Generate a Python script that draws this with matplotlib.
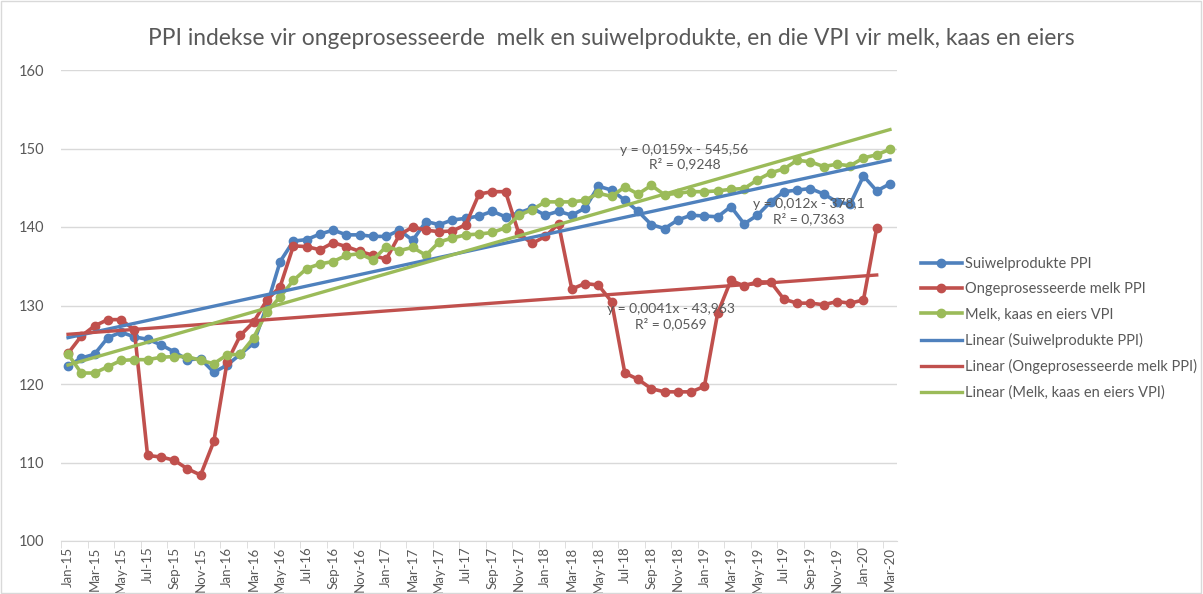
import numpy as np
import matplotlib
matplotlib.use("Agg")
import matplotlib.pyplot as plt
from matplotlib.patches import Rectangle

months = ["Jan", "Feb", "Mar", "Apr", "May", "Jun", "Jul", "Aug", "Sep", "Oct", "Nov", "Dec"]
categories = [f"{months[m]}-{y}" for y in range(15, 21) for m in range(12)][:63]

suiwel_ppi = [122.3, 123.3, 123.8, 125.9, 126.6, 126.0, 125.7, 125.0, 124.1, 123.1,
              123.2, 121.5, 122.4, 123.8, 125.2, 130.0, 135.6, 138.2, 138.4, 139.1,
              139.6, 139.0, 139.0, 138.8, 138.8, 139.6, 138.3, 140.7, 140.3, 140.9,
              141.1, 141.4, 142.0, 141.3, 141.8, 142.4, 141.5, 142.0, 141.5, 142.4,
              145.2, 144.7, 143.4, 142.0, 140.3, 139.8, 140.9, 141.5, 141.4, 141.3,
              142.6, 140.4, 141.5, 143.2, 144.5, 144.7, 144.9, 144.2, 143.2, 142.9,
              146.5, 144.6, 145.5]

melk_ppi = [123.9, 126.1, 127.4, 128.2, 128.2, 126.9, 110.9, 110.7, 110.3, 109.2,
            108.4, 112.7, 122.8, 126.2, 127.9, 130.7, 132.4, 137.6, 137.5, 137.1,
            138.0, 137.5, 136.9, 136.4, 135.9, 139.0, 140.0, 139.6, 139.4, 139.5,
            140.3, 144.2, 144.5, 144.5, 139.2, 137.9, 138.8, 140.4, 132.1, 132.8,
            132.6, 130.5, 121.4, 120.6, 119.4, 119.0, 119.0, 119.0, 119.7, 129.0,
            133.2, 132.5, 133.0, 133.0, 130.8, 130.3, 130.3, 130.1, 130.5, 130.3,
            130.7, 139.9]

vpi = [123.8, 121.4, 121.4, 122.2, 123.0, 123.1, 123.1, 123.4, 123.5, 123.5,
       123.0, 122.6, 123.7, 123.8, 125.9, 129.2, 131.1, 133.2, 134.7, 135.3,
       135.6, 136.4, 136.6, 135.8, 137.5, 137.0, 137.4, 136.4, 138.1, 138.6,
       139.0, 139.1, 139.3, 139.9, 141.5, 142.2, 143.2, 143.2, 143.2, 143.4,
       144.3, 143.9, 145.1, 144.2, 145.3, 144.1, 144.3, 144.5, 144.5, 144.6,
       144.8, 144.9, 146.0, 146.9, 147.4, 148.5, 148.3, 147.7, 148.0, 147.8,
       148.8, 149.2, 149.9]

series_names = ["Suiwelprodukte PPI", "Ongeprosesseerde melk PPI", "Melk, kaas en eiers VPI"]
series_values = [suiwel_ppi, melk_ppi, vpi]
colors = ["#4F81BD", "#C0504D", "#9BBB59"]
trend_labels = ["y = 0,012x - 378,1\nR² = 0,7363",
                "y = 0,0041x - 43,963\nR² = 0,0569",
                "y = 0,0159x - 545,56\nR² = 0,9248"]
trend_label_pos = [(55.9, 142.0), (45.5, 128.6), (46.5, 148.9)]

title = "PPI indekse vir ongeprosesseerde  melk en suiwelprodukte, en die VPI vir melk, kaas en eiers"

plt.rcParams['font.family'] = ['Lato', 'DejaVu Sans']
gray = "#595959"

fig = plt.figure(figsize=(12.03, 5.94), dpi=100)
ax = fig.add_axes([61.4 / 1203, 1 - 541 / 594, (896.6 - 61.4) / 1203, (541 - 70) / 594])

handles = []
for name, vals, c in zip(series_names, series_values, colors):
    x = np.arange(len(vals))
    h, = ax.plot(x, vals, color=c, lw=2.6, marker="o", ms=6, label=name, zorder=3)
    handles.append(h)

for name, vals, c, txt, pos in zip(series_names, series_values, colors, trend_labels, trend_label_pos):
    x = np.arange(len(vals))
    k, b = np.polyfit(x, vals, 1)
    h, = ax.plot([x[0], x[-1]], [k * x[0] + b, k * x[-1] + b], color=c, lw=2.4,
                 label=f"Linear ({name})", zorder=4)
    handles.append(h)
    ax.text(pos[0], pos[1], txt, ha="center", va="center", fontsize=10,
            color=gray, linespacing=1.2, zorder=5)

ax.set_xlim(-0.5, 62.5)
ax.set_ylim(100, 160)
ax.set_yticks(range(100, 161, 10))
ax.grid(axis="y", color="#D9D9D9", lw=1)
ax.set_axisbelow(True)
for s in ["top", "right", "left"]:
    ax.spines[s].set_visible(False)
ax.spines["bottom"].set_color("#D9D9D9")

ax.set_xticks(np.arange(0, 63, 2))
ax.set_xticklabels(categories[::2], rotation=90, fontsize=9.5, color=gray)
ax.set_xticks(np.arange(-0.5, 63, 2), minor=True)
ax.tick_params(axis="x", which="major", length=0, pad=4)
ax.tick_params(axis="x", which="minor", length=5, color="#D9D9D9")
ax.tick_params(axis="y", length=0, labelsize=10.5, labelcolor=gray, pad=12)

fig.text(0.508, 0.936, title, ha="center", va="center", fontsize=16.4, color=gray)

fig.legend(handles=handles, loc="upper left", bbox_to_anchor=(915 / 1203, 1 - 251 / 594),
           frameon=False, fontsize=10.5, labelcolor=gray, handlelength=2.8,
           labelspacing=0.78, handletextpad=0.2, borderaxespad=0)

fig.patches.append(Rectangle((0.001, 0.002), 0.997, 0.996, transform=fig.transFigure,
                             fill=False, edgecolor="#D9D9D9", lw=1))

fig.savefig("out.png", dpi=100)
